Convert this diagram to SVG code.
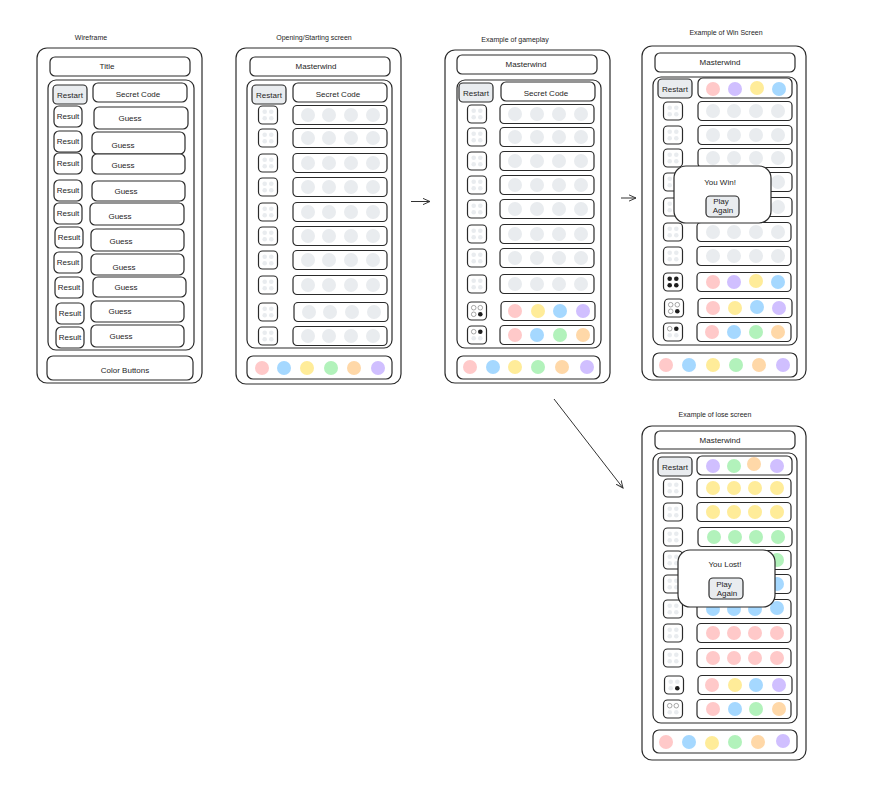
<svg xmlns="http://www.w3.org/2000/svg" xmlns:xlink="http://www.w3.org/1999/xlink" width="887" height="805" viewBox="0 0 887 805">
<style>
.b{fill:#fff;stroke:#2b2b2b;stroke-width:1.2}
.n{fill:none;stroke:#2b2b2b;stroke-width:1.2}
.g{fill:#e9ecef;stroke:#2b2b2b;stroke-width:1.2}
.t{font-family:"Liberation Sans",Arial,sans-serif;font-size:8px;fill:#1e1e1e;text-anchor:middle}
.lb{font-family:"Liberation Sans",Arial,sans-serif;font-size:7px;fill:#1e1e1e;text-anchor:middle}
.d{fill:#e9ecef}
.k{fill:#1e1e1e}
.w{fill:#fff;stroke:#555;stroke-width:0.5}
.R{fill:#ffc9c9}.B{fill:#a5d8ff}.Y{fill:#ffec99}.G{fill:#b2f2bb}.O{fill:#ffd8a8}.P{fill:#d0bfff}.E{fill:#e9ecef}
.c{fill:none;stroke:#333;stroke-width:1}
</style>
<defs>
<g id="rb"><rect class="b" x="-9.5" y="-9" width="19" height="18" rx="4"/><circle class="d" cx="-3.3" cy="-3.3" r="2.3"/><circle class="d" cx="3.3" cy="-3.3" r="2.3"/><circle class="d" cx="-3.3" cy="3.3" r="2.3"/><circle class="d" cx="3.3" cy="3.3" r="2.3"/></g>
<g id="rbe"><rect class="b" x="-9.5" y="-9" width="19" height="18" rx="4"/></g>
<g id="row"><rect class="b" x="0" y="-9.5" width="94" height="19" rx="4"/></g>
<marker id="ah" viewBox="0 0 10 10" refX="9" refY="5" markerWidth="8" markerHeight="8" orient="auto" markerUnits="userSpaceOnUse"><path d="M0,1 L9,5 L0,9" fill="none" stroke="#333" stroke-width="1.2"/></marker>
</defs>

<!-- Panel 1: Wireframe -->
<g id="wireframe">
<text class="lb" x="91" y="40">Wireframe</text>
<rect class="b" x="37" y="48" width="165" height="335" rx="10"/>
<rect class="b" x="50" y="57" width="140" height="19" rx="5"/>
<text class="t" x="107" y="69">Title</text>
<rect class="b" x="48" y="80" width="146" height="270" rx="8"/>
<rect class="g" x="53" y="85" width="34" height="19" rx="4"/>
<text class="t" x="70" y="97.5">Restart</text>
<rect class="b" x="93" y="83" width="94" height="19" rx="5"/>
<text class="t" x="138" y="97">Secret Code</text>
<g>
<rect class="b" x="54" y="106" width="28" height="21" rx="5"/><text class="t" x="68" y="119">Result</text>
<rect class="b" x="94" y="107" width="94" height="22" rx="5"/><text class="t" x="130" y="121">Guess</text>
<rect class="b" x="54" y="131" width="28" height="21" rx="5"/><text class="t" x="68" y="144">Result</text>
<rect class="b" x="92" y="132" width="93" height="22" rx="5"/><text class="t" x="123" y="148">Guess</text>
<rect class="b" x="54" y="153" width="28" height="21" rx="5"/><text class="t" x="68" y="166">Result</text>
<rect class="b" x="92" y="154" width="93" height="20" rx="5"/><text class="t" x="123" y="168">Guess</text>
<rect class="b" x="54" y="180" width="28" height="21" rx="5"/><text class="t" x="68" y="193">Result</text>
<rect class="b" x="92" y="181" width="93" height="20" rx="5"/><text class="t" x="126" y="194">Guess</text>
<rect class="b" x="54" y="203" width="28" height="21" rx="5"/><text class="t" x="68" y="216">Result</text>
<rect class="b" x="90" y="203" width="94" height="22" rx="5"/><text class="t" x="120" y="219">Guess</text>
<rect class="b" x="55" y="227" width="28" height="21" rx="5"/><text class="t" x="69" y="240">Result</text>
<rect class="b" x="91" y="229" width="93" height="22" rx="5"/><text class="t" x="121" y="244">Guess</text>
<rect class="b" x="54" y="252" width="28" height="21" rx="5"/><text class="t" x="68" y="265">Result</text>
<rect class="b" x="91" y="254" width="93" height="21" rx="5"/><text class="t" x="124" y="270">Guess</text>
<rect class="b" x="55" y="277" width="28" height="21" rx="5"/><text class="t" x="69" y="290">Result</text>
<rect class="b" x="93" y="277" width="93" height="20" rx="5"/><text class="t" x="126" y="290">Guess</text>
<rect class="b" x="56" y="303" width="28" height="21" rx="5"/><text class="t" x="70" y="316">Result</text>
<rect class="b" x="91" y="301" width="93" height="21" rx="5"/><text class="t" x="120" y="314">Guess</text>
<rect class="b" x="56" y="327" width="28" height="21" rx="5"/><text class="t" x="70" y="340">Result</text>
<rect class="b" x="91" y="325" width="93" height="22" rx="5"/><text class="t" x="121" y="339">Guess</text>
</g>
<rect class="b" x="47" y="356" width="146" height="24" rx="6"/>
<text class="t" x="125" y="373">Color Buttons</text>
</g>

<!-- Panel 2: Opening -->
<g id="opening">
<text class="lb" x="314" y="40">Opening/Starting screen</text>
<rect class="b" x="236" y="48" width="165" height="336" rx="10"/>
<rect class="b" x="250" y="57" width="140" height="19" rx="5"/>
<text class="t" x="316" y="69">Masterwind</text>
<rect class="b" x="247" y="80" width="145" height="268" rx="8"/>
<rect class="g" x="252" y="85" width="34" height="19" rx="4"/>
<text class="t" x="269" y="97.5">Restart</text>
<rect class="b" x="293" y="83" width="94" height="19" rx="5"/>
<text class="t" x="338" y="97">Secret Code</text>
<g>
<use href="#rb" x="268" y="115"/><use href="#rb" x="268" y="138"/><use href="#rb" x="268" y="163"/><use href="#rb" x="268" y="187"/><use href="#rb" x="268" y="212"/>
<use href="#rb" x="268" y="236"/><use href="#rb" x="268" y="260"/><use href="#rb" x="268" y="285"/><use href="#rb" x="268" y="312"/><use href="#rb" x="268" y="336"/>
<use href="#row" x="293" y="115"/><use href="#row" x="293" y="138"/><use href="#row" x="293" y="163"/><use href="#row" x="293" y="187"/><use href="#row" x="293" y="212"/>
<use href="#row" x="293" y="236"/><use href="#row" x="293" y="260"/><use href="#row" x="293" y="285"/><use href="#row" x="294" y="312"/><use href="#row" x="293" y="336"/>
</g>
<g class="E">
<circle cx="308" cy="115" r="7"/><circle cx="329" cy="115" r="7"/><circle cx="351" cy="115" r="7"/><circle cx="373" cy="115" r="7"/>
<circle cx="308" cy="138" r="7"/><circle cx="329" cy="138" r="7"/><circle cx="351" cy="138" r="7"/><circle cx="373" cy="138" r="7"/>
<circle cx="308" cy="163" r="7"/><circle cx="329" cy="163" r="7"/><circle cx="351" cy="163" r="7"/><circle cx="373" cy="163" r="7"/>
<circle cx="308" cy="187" r="7"/><circle cx="329" cy="187" r="7"/><circle cx="351" cy="187" r="7"/><circle cx="373" cy="187" r="7"/>
<circle cx="308" cy="212" r="7"/><circle cx="329" cy="212" r="7"/><circle cx="351" cy="212" r="7"/><circle cx="373" cy="212" r="7"/>
<circle cx="308" cy="236" r="7"/><circle cx="329" cy="236" r="7"/><circle cx="351" cy="236" r="7"/><circle cx="373" cy="236" r="7"/>
<circle cx="308" cy="260" r="7"/><circle cx="329" cy="260" r="7"/><circle cx="351" cy="260" r="7"/><circle cx="373" cy="260" r="7"/>
<circle cx="308" cy="285" r="7"/><circle cx="329" cy="285" r="7"/><circle cx="351" cy="285" r="7"/><circle cx="373" cy="285" r="7"/>
<circle cx="309" cy="312" r="7"/><circle cx="330" cy="312" r="7"/><circle cx="352" cy="312" r="7"/><circle cx="374" cy="312" r="7"/>
<circle cx="308" cy="336" r="7"/><circle cx="329" cy="336" r="7"/><circle cx="351" cy="336" r="7"/><circle cx="373" cy="336" r="7"/>
</g>
<rect class="b" x="247" y="356" width="145" height="23" rx="6"/>
<circle class="R" cx="262" cy="368" r="7"/><circle class="B" cx="284" cy="368" r="7"/><circle class="Y" cx="307" cy="368" r="7"/><circle class="G" cx="331" cy="368" r="7"/><circle class="O" cx="354" cy="368" r="7"/><circle class="P" cx="378" cy="368" r="7"/>
</g>

<!-- Panel 3: Gameplay -->
<g id="gameplay">
<text class="lb" x="515" y="42">Example of gameplay</text>
<rect class="b" x="445" y="50" width="165" height="333" rx="10"/>
<rect class="b" x="457" y="55" width="140" height="19" rx="5"/>
<text class="t" x="526" y="67">Masterwind</text>
<rect class="b" x="457" y="80" width="144" height="268" rx="8"/>
<rect class="g" x="459" y="83" width="34" height="19" rx="4"/>
<text class="t" x="476" y="95.5">Restart</text>
<rect class="b" x="501" y="82" width="94" height="19" rx="5"/>
<text class="t" x="546" y="96">Secret Code</text>
<g>
<use href="#rb" x="477" y="114"/><use href="#rb" x="477" y="137"/><use href="#rb" x="477" y="161"/><use href="#rb" x="477" y="185"/><use href="#rb" x="477" y="209"/>
<use href="#rb" x="477" y="234"/><use href="#rb" x="477" y="258"/><use href="#rb" x="477" y="284"/><use href="#rbe" x="477" y="311"/><use href="#rbe" x="477" y="335"/>
<use href="#row" x="500" y="114"/><use href="#row" x="500" y="137"/><use href="#row" x="500" y="161"/><use href="#row" x="500" y="185"/><use href="#row" x="500" y="209"/>
<use href="#row" x="500" y="234"/><use href="#row" x="500" y="258"/><use href="#row" x="500" y="284"/><use href="#row" x="501" y="311"/><use href="#row" x="500" y="335"/>
</g>
<circle class="w" cx="473.7" cy="307.7" r="2.3"/><circle class="w" cx="480.3" cy="307.7" r="2.3"/><circle class="w" cx="473.7" cy="314.3" r="2.3"/><circle class="k" cx="480.3" cy="314.3" r="2.3"/>
<circle class="w" cx="473.7" cy="331.7" r="2.3"/><circle class="k" cx="480.3" cy="331.7" r="2.3"/><circle class="d" cx="473.7" cy="338.3" r="2.3"/><circle class="d" cx="480.3" cy="338.3" r="2.3"/>
<g class="E">
<circle cx="515" cy="114" r="7"/><circle cx="537" cy="114" r="7"/><circle cx="559" cy="114" r="7"/><circle cx="581" cy="114" r="7"/>
<circle cx="515" cy="137" r="7"/><circle cx="537" cy="137" r="7"/><circle cx="559" cy="137" r="7"/><circle cx="581" cy="137" r="7"/>
<circle cx="515" cy="161" r="7"/><circle cx="537" cy="161" r="7"/><circle cx="559" cy="161" r="7"/><circle cx="581" cy="161" r="7"/>
<circle cx="515" cy="185" r="7"/><circle cx="537" cy="185" r="7"/><circle cx="559" cy="185" r="7"/><circle cx="581" cy="185" r="7"/>
<circle cx="515" cy="209" r="7"/><circle cx="537" cy="209" r="7"/><circle cx="559" cy="209" r="7"/><circle cx="581" cy="209" r="7"/>
<circle cx="515" cy="234" r="7"/><circle cx="537" cy="234" r="7"/><circle cx="559" cy="234" r="7"/><circle cx="581" cy="234" r="7"/>
<circle cx="515" cy="258" r="7"/><circle cx="537" cy="258" r="7"/><circle cx="559" cy="258" r="7"/><circle cx="581" cy="258" r="7"/>
<circle cx="515" cy="284" r="7"/><circle cx="537" cy="284" r="7"/><circle cx="559" cy="284" r="7"/><circle cx="581" cy="284" r="7"/>
</g>
<circle class="R" cx="515" cy="311" r="7"/><circle class="Y" cx="538" cy="311" r="7"/><circle class="B" cx="560" cy="311" r="7"/><circle class="P" cx="583" cy="311" r="7"/>
<circle class="R" cx="515" cy="335" r="7"/><circle class="B" cx="537" cy="335" r="7"/><circle class="G" cx="560" cy="335" r="7"/><circle class="O" cx="583" cy="335" r="7"/>
<rect class="b" x="457" y="356" width="143" height="23" rx="6"/>
<circle class="R" cx="470" cy="367" r="7"/><circle class="B" cx="493" cy="367" r="7"/><circle class="Y" cx="515" cy="367" r="7"/><circle class="G" cx="538" cy="367" r="7"/><circle class="O" cx="562" cy="367" r="7"/><circle class="P" cx="587" cy="367" r="7"/>
</g>

<!-- Panel 4: Win -->
<g id="win-screen">
<text class="lb" x="726" y="35">Example of Win Screen</text>
<rect class="b" x="642" y="46" width="164" height="334" rx="10"/>
<rect class="b" x="655" y="53" width="140" height="19" rx="5"/>
<text class="t" x="720" y="65">Masterwind</text>
<rect class="b" x="653" y="77" width="144" height="268" rx="8"/>
<rect class="g" x="658" y="79" width="34" height="19" rx="4"/>
<text class="t" x="675" y="91.5">Restart</text>
<rect class="b" x="698" y="78" width="94" height="20" rx="5"/>
<circle class="R" cx="713" cy="89" r="7"/><circle class="P" cx="735" cy="89" r="7"/><circle class="Y" cx="757" cy="88" r="7"/><circle class="B" cx="779" cy="89" r="7"/>
<g>
<use href="#rb" x="673" y="111"/><use href="#rb" x="673" y="135"/><use href="#rb" x="673" y="158"/><use href="#rb" x="673" y="182"/><use href="#rb" x="673" y="207"/>
<use href="#rb" x="673" y="232"/><use href="#rb" x="673" y="256"/><use href="#rbe" x="673" y="282"/><use href="#rbe" x="674" y="308"/><use href="#rbe" x="673" y="332"/>
<use href="#row" x="698" y="111"/><use href="#row" x="698" y="135"/><use href="#row" x="698" y="158"/><use href="#row" x="698" y="182"/><use href="#row" x="698" y="207"/>
<use href="#row" x="697" y="232"/><use href="#row" x="697" y="256"/><use href="#row" x="697" y="282"/><use href="#row" x="698" y="308"/><use href="#row" x="697" y="332"/>
</g>
<circle class="k" cx="669.7" cy="278.7" r="2.3"/><circle class="k" cx="676.3" cy="278.7" r="2.3"/><circle class="k" cx="669.7" cy="285.3" r="2.3"/><circle class="k" cx="676.3" cy="285.3" r="2.3"/>
<circle class="w" cx="670.7" cy="304.7" r="2.3"/><circle class="w" cx="677.3" cy="304.7" r="2.3"/><circle class="w" cx="670.7" cy="311.3" r="2.3"/><circle class="k" cx="677.3" cy="311.3" r="2.3"/>
<circle class="w" cx="669.7" cy="328.7" r="2.3"/><circle class="k" cx="676.3" cy="328.7" r="2.3"/><circle class="d" cx="669.7" cy="335.3" r="2.3"/><circle class="d" cx="676.3" cy="335.3" r="2.3"/>
<g class="E">
<circle cx="713" cy="111" r="7"/><circle cx="734" cy="111" r="7"/><circle cx="756" cy="111" r="7"/><circle cx="778" cy="111" r="7"/>
<circle cx="713" cy="135" r="7"/><circle cx="734" cy="135" r="7"/><circle cx="756" cy="135" r="7"/><circle cx="778" cy="135" r="7"/>
<circle cx="713" cy="158" r="7"/><circle cx="734" cy="158" r="7"/><circle cx="756" cy="158" r="7"/><circle cx="778" cy="158" r="7"/>
<circle cx="713" cy="182" r="7"/><circle cx="734" cy="182" r="7"/><circle cx="756" cy="182" r="7"/><circle cx="778" cy="182" r="7"/>
<circle cx="713" cy="207" r="7"/><circle cx="734" cy="207" r="7"/><circle cx="756" cy="207" r="7"/><circle cx="778" cy="207" r="7"/>
<circle cx="713" cy="232" r="7"/><circle cx="734" cy="232" r="7"/><circle cx="756" cy="232" r="7"/><circle cx="778" cy="232" r="7"/>
<circle cx="713" cy="256" r="7"/><circle cx="734" cy="256" r="7"/><circle cx="756" cy="256" r="7"/><circle cx="778" cy="256" r="7"/>
</g>
<circle class="R" cx="713" cy="282" r="7"/><circle class="P" cx="734" cy="282" r="7"/><circle class="Y" cx="756" cy="281" r="7"/><circle class="B" cx="778" cy="282" r="7"/>
<circle class="R" cx="713" cy="308" r="7"/><circle class="Y" cx="735" cy="308" r="7"/><circle class="B" cx="757" cy="307" r="7"/><circle class="P" cx="779" cy="308" r="7"/>
<circle class="R" cx="712" cy="332" r="7"/><circle class="B" cx="734" cy="332" r="7"/><circle class="G" cx="756" cy="332" r="7"/><circle class="O" cx="778" cy="332" r="7"/>
<rect class="b" x="653" y="353" width="144" height="24" rx="6"/>
<circle class="R" cx="666" cy="365" r="7"/><circle class="B" cx="689" cy="365" r="7"/><circle class="Y" cx="713" cy="365" r="7"/><circle class="G" cx="736" cy="365" r="7"/><circle class="O" cx="759" cy="365" r="7"/><circle class="P" cx="783" cy="365" r="7"/>
<rect class="b" x="674" y="166" width="97" height="57" rx="12"/>
<text class="t" x="720" y="185">You Win!</text>
<rect class="g" x="706" y="196" width="33" height="21" rx="4"/>
<text class="t" x="721" y="204">Play</text>
<text class="t" x="723" y="213">Again</text>
</g>

<!-- Panel 5: Lose -->
<g id="lose-screen">
<text class="lb" x="715" y="417">Example of lose screen</text>
<rect class="b" x="642" y="426" width="164" height="334" rx="10"/>
<rect class="b" x="655" y="431" width="140" height="18" rx="5"/>
<text class="t" x="720" y="443">Masterwind</text>
<rect class="b" x="653" y="453" width="144" height="270" rx="8"/>
<rect class="g" x="658" y="457" width="34" height="19" rx="4"/>
<text class="t" x="675" y="469.5">Restart</text>
<rect class="b" x="697" y="456" width="95" height="19" rx="5"/>
<circle class="P" cx="713" cy="466" r="7"/><circle class="G" cx="734" cy="466" r="7"/><circle class="O" cx="754" cy="464" r="7"/><circle class="P" cx="777" cy="466" r="7"/>
<g>
<use href="#rb" x="673" y="488"/><use href="#rb" x="673" y="512"/><use href="#rb" x="673" y="537"/><use href="#rb" x="673" y="560"/><use href="#rb" x="673" y="584"/>
<use href="#rb" x="673" y="609"/><use href="#rb" x="673" y="633"/><use href="#rb" x="673" y="658"/><use href="#rbe" x="674" y="685"/><use href="#rbe" x="673" y="709"/>
<use href="#row" x="697" y="488"/><use href="#row" x="697" y="512"/><use href="#row" x="698" y="537"/><use href="#row" x="697" y="560"/><use href="#row" x="697" y="584"/>
<use href="#row" x="697" y="609"/><use href="#row" x="697" y="633"/><use href="#row" x="697" y="658"/><use href="#row" x="698" y="685"/><use href="#row" x="697" y="709"/>
</g>
<circle class="d" cx="670.7" cy="681.7" r="2.3"/><circle class="d" cx="677.3" cy="681.7" r="2.3"/><circle class="d" cx="670.7" cy="688.3" r="2.3"/><circle class="k" cx="677.3" cy="688.3" r="2.3"/>
<circle class="w" cx="669.7" cy="705.7" r="2.3"/><circle class="w" cx="676.3" cy="705.7" r="2.3"/><circle class="d" cx="669.7" cy="712.3" r="2.3"/><circle class="d" cx="676.3" cy="712.3" r="2.3"/>
<circle class="Y" cx="713" cy="488" r="7"/><circle class="Y" cx="734" cy="488" r="7"/><circle class="Y" cx="755" cy="488" r="7"/><circle class="Y" cx="777" cy="488" r="7"/>
<circle class="Y" cx="713" cy="512" r="7"/><circle class="Y" cx="734" cy="512" r="7"/><circle class="Y" cx="755" cy="512" r="7"/><circle class="Y" cx="777" cy="512" r="7"/>
<circle class="G" cx="714" cy="537" r="7"/><circle class="G" cx="735" cy="537" r="7"/><circle class="G" cx="756" cy="537" r="7"/><circle class="G" cx="778" cy="537" r="7"/>
<circle class="G" cx="713" cy="560" r="7"/><circle class="G" cx="734" cy="560" r="7"/><circle class="G" cx="755" cy="560" r="7"/><circle class="G" cx="777" cy="560" r="7"/>
<circle class="B" cx="713" cy="584" r="7"/><circle class="B" cx="734" cy="584" r="7"/><circle class="B" cx="755" cy="584" r="7"/><circle class="B" cx="777" cy="584" r="7"/>
<circle class="B" cx="713" cy="609" r="7"/><circle class="B" cx="734" cy="609" r="7"/><circle class="B" cx="755" cy="609" r="7"/><circle class="B" cx="777" cy="608" r="7"/>
<circle class="R" cx="713" cy="633" r="7"/><circle class="R" cx="734" cy="633" r="7"/><circle class="R" cx="755" cy="633" r="7"/><circle class="R" cx="777" cy="633" r="7"/>
<circle class="R" cx="713" cy="658" r="7"/><circle class="R" cx="734" cy="658" r="7"/><circle class="R" cx="755" cy="658" r="7"/><circle class="R" cx="777" cy="658" r="7"/>
<circle class="R" cx="712" cy="685" r="7"/><circle class="Y" cx="735" cy="685" r="7"/><circle class="B" cx="756" cy="685" r="7"/><circle class="P" cx="779" cy="685" r="7"/>
<circle class="R" cx="713" cy="709" r="7"/><circle class="B" cx="735" cy="709" r="7"/><circle class="G" cx="756" cy="709" r="7"/><circle class="O" cx="779" cy="709" r="7"/>
<rect class="b" x="653" y="730" width="144" height="23" rx="6"/>
<circle class="R" cx="666" cy="742" r="7"/><circle class="B" cx="689" cy="742" r="7"/><circle class="Y" cx="712" cy="743" r="7"/><circle class="G" cx="735" cy="742" r="7"/><circle class="O" cx="758" cy="742" r="7"/><circle class="P" cx="783" cy="741" r="7"/>
<rect class="b" x="678" y="550" width="97" height="57" rx="12"/>
<text class="t" x="725" y="567">You Lost!</text>
<rect class="g" x="709" y="578" width="34" height="21" rx="4"/>
<text class="t" x="724" y="587">Play</text>
<text class="t" x="727" y="596">Again</text>
</g>

<!-- Connectors -->
<g id="connectors">
<line class="c" x1="411" y1="201.5" x2="430" y2="201.5" marker-end="url(#ah)"/>
<line class="c" x1="621" y1="198" x2="636" y2="198" marker-end="url(#ah)"/>
<line class="c" x1="554" y1="399" x2="623" y2="488" marker-end="url(#ah)"/>
</g>
</svg>
